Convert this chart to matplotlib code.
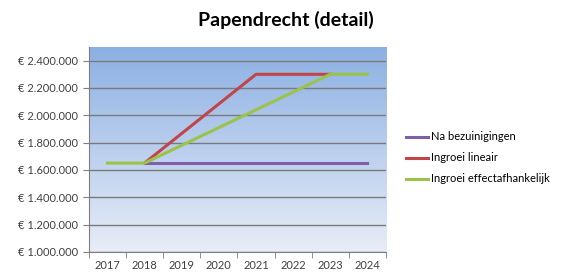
import numpy as np
import matplotlib.pyplot as plt
from matplotlib.ticker import FuncFormatter

plt.rcParams['font.family'] = ['Lato', 'DejaVu Sans']

jaren = ['2017', '2018', '2019', '2020', '2021', '2022', '2023', '2024']
na_bezuinigingen = [np.nan, 1650000, 1650000, 1650000, 1650000, 1650000, 1650000, 1650000]
ingroei_lineair = [np.nan, 1650000, 1866667, 2083333, 2300000, 2300000, 2300000, np.nan]
ingroei_effect = [1650000, 1650000, 1780000, 1910000, 2040000, 2170000, 2300000, 2300000]

def euro(v, pos):
    return '€ ' + f'{v:,.0f}'.replace(',', '.')

fig = plt.figure(figsize=(5.66, 2.78), dpi=100)
ax = fig.add_axes([0.157, 0.094, 0.525, 0.737])

x = np.arange(len(jaren))
ax.set_xlim(-0.5, len(jaren) - 0.5)
ax.set_ylim(1000000, 2500000)

# verloop achtergrond (boven donkerder blauw)
t = np.linspace(1, 0, 256).reshape(-1, 1, 1)
top = np.array([0.55, 0.69, 0.89])
bot = np.array([0.91, 0.93, 0.97])
img = bot + (top - bot) * t
ax.imshow(img, extent=[-0.5, len(jaren) - 0.5, 1000000, 2500000],
          aspect='auto', zorder=0, origin='upper')

ax.set_yticks(np.arange(1000000, 2400001, 200000))
ax.yaxis.set_major_formatter(FuncFormatter(euro))
ax.grid(axis='y', color='#7a7a7a', linewidth=1.0, zorder=1)
ax.set_axisbelow(True)

ax.plot(x, na_bezuinigingen, color='#7f5fa8', lw=2.2, label='Na bezuinigingen', zorder=3)
ax.plot(x, ingroei_lineair, color='#c0464a', lw=2.2, label='Ingroei lineair', zorder=4)
ax.plot(x, ingroei_effect, color='#9bc34a', lw=2.2, label='Ingroei effectafhankelijk', zorder=5)

ax.set_xticks(x)
ax.set_xticklabels(jaren)
ax.set_xticks(np.arange(-0.5, len(jaren)), minor=True)
ax.tick_params(axis='x', which='major', length=0, pad=6)
ax.tick_params(axis='x', which='minor', length=4, color='#7f7f7f')
ax.tick_params(axis='y', length=4, color='#7f7f7f', pad=4)
ax.tick_params(labelsize=8, labelcolor='#404040')

for s in ['top', 'right']:
    ax.spines[s].set_visible(False)
for s in ['left', 'bottom']:
    ax.spines[s].set_color('#7f7f7f')

fig.suptitle('Papendrecht (detail)', x=0.505, y=0.928, va='center',
             fontsize=14, fontweight='bold')

fig.legend(loc='center left', bbox_to_anchor=(0.70, 0.432), frameon=False,
           fontsize=8, handlelength=2.0, handletextpad=0.2, labelspacing=0.9)

plt.savefig('out.png', dpi=100)
